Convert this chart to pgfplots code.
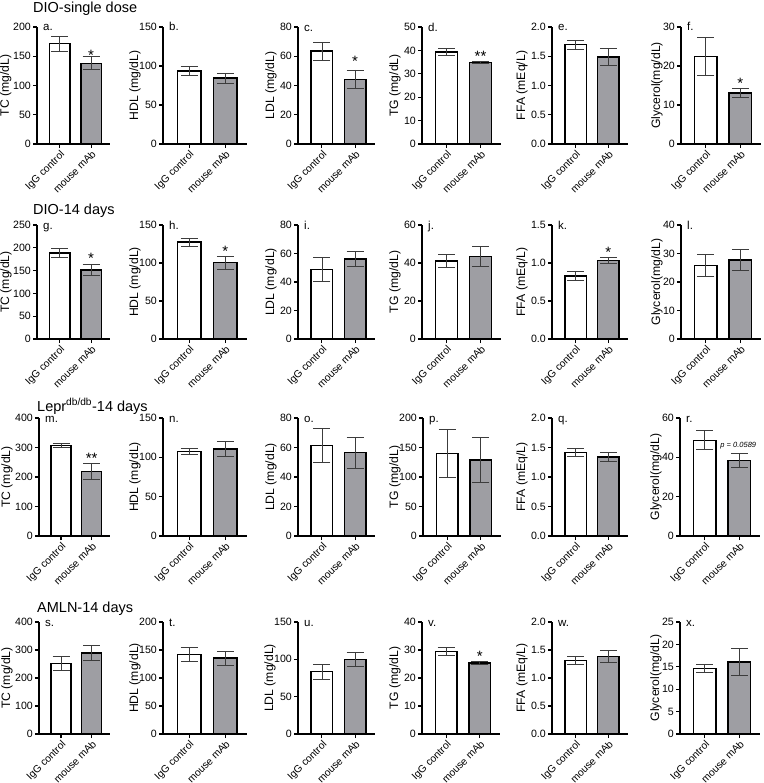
\documentclass[border=0pt]{standalone}
\usepackage{fontspec}
\setmainfont{Liberation Sans}
\usepackage{pgfplots}
\pgfplotsset{compat=1.18}
\definecolor{barGray}{RGB}{158,158,163}
\definecolor{errGray}{RGB}{60,60,60}
\pgfplotsset{
  ylx/.style={every axis y label/.style={at={(rel axis cs:0,0.5)}, xshift=-#1, rotate=90, anchor=base, font=\fontsize{12.2}{13}\selectfont}},
  panel/.style={
    scale only axis, anchor=south west,
    axis lines=left, axis line style={line width=1.2pt, -},
    xmin=-0.72, xmax=1.6, ymin=0,
    xtick={0,1}, xticklabels={IgG control, mouse mAb},
    tick align=outside, major tick length=4pt,
    tick style={line width=1.1pt, black},
    xticklabel style={rotate=45, anchor=north east, font=\fontsize{10.3}{11}\selectfont, inner sep=1pt},
    yticklabel style={font=\fontsize{10.6}{11}\selectfont, inner sep=2pt},
    ylx=25pt,
    /pgf/number format/assume math mode=true,
    clip=false,
  },
  dec/.style={yticklabel style={/pgf/number format/.cd, fixed, fixed zerofill, precision=1}},
  barcommon/.style={ybar, bar width=0.65, bar shift=0pt, draw=black, line width=1.4pt,
    error bars/y dir=both, error bars/y explicit,
    error bars/error bar style={line width=0.8pt, draw=errGray},
    error bars/error mark options={rotate=90, line width=0.8pt, draw=errGray, mark size=8.5pt}},
  wbar/.style={barcommon, fill=white},
  gbar/.style={barcommon, fill=barGray},
}
\tikzset{
  rowtitle/.style={anchor=base west, font=\fontsize{14.5}{15}\selectfont, inner sep=0pt},
  letter/.style={anchor=base west, font=\fontsize{11.5}{12}\selectfont, xshift=6pt, yshift=-4pt, inner sep=0pt},
  star/.style={font=\fontsize{15}{15}\selectfont, inner sep=0pt, yshift=-3pt},
}
\begin{document}
\begin{tikzpicture}
% ---------- Row 1 ----------
\node[rowtitle] at (33pt,-12.5pt) {DIO-single dose};
\begin{axis}[panel, ylx=28pt, at={(37pt,-144pt)}, width=73pt, height=117pt, ymax=200, ytick distance=50, ylabel={TC (mg/dL)}]
\addplot[wbar] coordinates {(0,171.5) +- (0,12.5)};
\addplot[gbar] coordinates {(1,138) +- (0,11)};
\node[letter] at (rel axis cs:0,1) {a.};
\node[star] at (axis cs:1,157) {*};
\end{axis}
\begin{axis}[panel, at={(163pt,-144pt)}, width=84pt, height=117pt, ymax=150, ytick distance=50, ylabel={HDL (mg/dL)}]
\addplot[wbar] coordinates {(0,93.8) +- (0,6.3)};
\addplot[gbar] coordinates {(1,84.5) +- (0,6.3)};
\node[letter] at (rel axis cs:0,1) {b.};
\end{axis}
\begin{axis}[panel, ylx=24pt, at={(298pt,-144pt)}, width=77pt, height=117pt, ymax=80, ytick distance=20, ylabel={LDL (mg/dL)}]
\addplot[wbar] coordinates {(0,63.5) +- (0,6)};
\addplot[gbar] coordinates {(1,44.3) +- (0,6.3)};
\node[letter] at (rel axis cs:0,1) {c.};
\node[star] at (axis cs:1,58.3) {*};
\end{axis}
\begin{axis}[panel, ylx=24pt, at={(422pt,-144pt)}, width=79pt, height=117pt, ymax=50, ytick distance=10, ylabel={TG (mg/dL)}]
\addplot[wbar] coordinates {(0,39.4) +- (0,1.6)};
\addplot[gbar] coordinates {(1,34.8) +- (0,0.5)};
\node[letter] at (rel axis cs:0,1) {d.};
\node[star] at (axis cs:1,38.6) {**};
\end{axis}
\begin{axis}[panel, dec, ylx=27pt, at={(552pt,-144pt)}, width=76pt, height=117pt, ymax=2, ytick distance=0.5, ylabel={FFA (mEq/L)}]
\addplot[wbar] coordinates {(0,1.70) +- (0,0.078)};
\addplot[gbar] coordinates {(1,1.49) +- (0,0.143)};
\node[letter] at (rel axis cs:0,1) {e.};
\end{axis}
\begin{axis}[panel, ylx=21pt, at={(681pt,-144pt)}, width=80pt, height=117pt, ymax=30, ytick distance=10, ylabel={Glycerol(mg/dL)}]
\addplot[wbar] coordinates {(0,22.5) +- (0,4.8)};
\addplot[gbar] coordinates {(1,13.1) +- (0,1.2)};
\node[letter] at (rel axis cs:0,1) {f.};
\node[star] at (axis cs:1,16.4) {*};
\end{axis}
% ---------- Row 2 ----------
\node[rowtitle] at (33pt,-215pt) {DIO-14 days};
\begin{axis}[panel, ylx=28pt, at={(37pt,-339pt)}, width=73pt, height=114pt, ymax=250, ytick distance=50, ylabel={TC (mg/dL)}]
\addplot[wbar] coordinates {(0,189) +- (0,10)};
\addplot[gbar] coordinates {(1,151) +- (0,12.5)};
\node[letter] at (rel axis cs:0,1) {g.};
\node[star] at (axis cs:1,184) {*};
\end{axis}
\begin{axis}[panel, at={(163pt,-339pt)}, width=84pt, height=114pt, ymax=150, ytick distance=50, ylabel={HDL (mg/dL)}]
\addplot[wbar] coordinates {(0,127.6) +- (0,5.3)};
\addplot[gbar] coordinates {(1,100.5) +- (0,8.5)};
\node[letter] at (rel axis cs:0,1) {h.};
\node[star] at (axis cs:1,119.6) {*};
\end{axis}
\begin{axis}[panel, ylx=24pt, at={(298pt,-339pt)}, width=77pt, height=114pt, ymax=80, ytick distance=20, ylabel={LDL (mg/dL)}]
\addplot[wbar] coordinates {(0,48.7) +- (0,8.4)};
\addplot[gbar] coordinates {(1,56.2) +- (0,5)};
\node[letter] at (rel axis cs:0,1) {i.};
\end{axis}
\begin{axis}[panel, ylx=24pt, at={(422pt,-339pt)}, width=79pt, height=114pt, ymax=60, ytick distance=20, ylabel={TG (mg/dL)}]
\addplot[wbar] coordinates {(0,41) +- (0,3.4)};
\addplot[gbar] coordinates {(1,43.5) +- (0,5.1)};
\node[letter] at (rel axis cs:0,1) {j.};
\end{axis}
\begin{axis}[panel, dec, ylx=27pt, at={(552pt,-339pt)}, width=76pt, height=114pt, ymax=1.5, ytick distance=0.5, ylabel={FFA (mEq/L)}]
\addplot[wbar] coordinates {(0,0.83) +- (0,0.063)};
\addplot[gbar] coordinates {(1,1.035) +- (0,0.035)};
\node[letter] at (rel axis cs:0,1) {k.};
\node[star] at (axis cs:1,1.174) {*};
\end{axis}
\begin{axis}[panel, ylx=21pt, at={(681pt,-339pt)}, width=80pt, height=114pt, ymax=40, ytick distance=10, ylabel={Glycerol(mg/dL)}]
\addplot[wbar] coordinates {(0,25.8) +- (0,3.8)};
\addplot[gbar] coordinates {(1,27.7) +- (0,3.6)};
\node[letter] at (rel axis cs:0,1) {l.};
\end{axis}
% ---------- Row 3 ----------
\node[rowtitle] at (37pt,-411pt) {Lepr\textsuperscript{db/db}-14 days};
\begin{axis}[panel, ylx=29pt, at={(39pt,-536pt)}, width=71pt, height=118pt, ymax=400, ytick distance=100, ylabel={TC (mg/dL)}]
\addplot[wbar] coordinates {(0,307) +- (0,6)};
\addplot[gbar] coordinates {(1,218) +- (0,27)};
\node[letter] at (rel axis cs:0,1) {m.};
\node[star] at (axis cs:1,275) {**};
\end{axis}
\begin{axis}[panel, at={(163pt,-536pt)}, width=84pt, height=118pt, ymax=150, ytick distance=50, ylabel={HDL (mg/dL)}]
\addplot[wbar] coordinates {(0,107.5) +- (0,3.7)};
\addplot[gbar] coordinates {(1,110.6) +- (0,9.9)};
\node[letter] at (rel axis cs:0,1) {n.};
\end{axis}
\begin{axis}[panel, ylx=24pt, at={(298pt,-536pt)}, width=77pt, height=118pt, ymax=80, ytick distance=20, ylabel={LDL (mg/dL)}]
\addplot[wbar] coordinates {(0,61.4) +- (0,11.4)};
\addplot[gbar] coordinates {(1,56.5) +- (0,10.5)};
\node[letter] at (rel axis cs:0,1) {o.};
\end{axis}
\begin{axis}[panel, at={(423pt,-536pt)}, width=78pt, height=118pt, ymax=200, ytick distance=50, ylabel={TG (mg/dL)}]
\addplot[wbar] coordinates {(0,140) +- (0,40)};
\addplot[gbar] coordinates {(1,128.5) +- (0,38)};
\node[letter] at (rel axis cs:0,1) {p.};
\end{axis}
\begin{axis}[panel, dec, ylx=27pt, at={(552pt,-536pt)}, width=76pt, height=118pt, ymax=2, ytick distance=0.5, ylabel={FFA (mEq/L)}]
\addplot[wbar] coordinates {(0,1.415) +- (0,0.072)};
\addplot[gbar] coordinates {(1,1.34) +- (0,0.072)};
\node[letter] at (rel axis cs:0,1) {q.};
\end{axis}
\begin{axis}[panel, ylx=21pt, at={(680pt,-536pt)}, width=80pt, height=118pt, ymax=60, ytick distance=20, ylabel={Glycerol(mg/dL)}]
\addplot[wbar] coordinates {(0,48.7) +- (0,4.8)};
\addplot[gbar] coordinates {(1,38.4) +- (0,3.7)};
\node[letter] at (rel axis cs:0,1) {r.};
\node[font=\fontsize{7.5}{8}\selectfont\itshape, inner sep=0pt] at (axis cs:0.97,45.7) {p = 0.0589};
\end{axis}
% ---------- Row 4 ----------
\node[rowtitle] at (37pt,-612pt) {AMLN-14 days};
\begin{axis}[panel, ylx=29pt, at={(39pt,-734pt)}, width=71pt, height=112pt, ymax=400, ytick distance=100, ylabel={TC (mg/dL)}]
\addplot[wbar] coordinates {(0,251) +- (0,25)};
\addplot[gbar] coordinates {(1,289) +- (0,26)};
\node[letter] at (rel axis cs:0,1) {s.};
\end{axis}
\begin{axis}[panel, at={(163pt,-734pt)}, width=84pt, height=112pt, ymax=200, ytick distance=50, ylabel={HDL (mg/dL)}]
\addplot[wbar] coordinates {(0,142) +- (0,13)};
\addplot[gbar] coordinates {(1,135.5) +- (0,12.5)};
\node[letter] at (rel axis cs:0,1) {t.};
\end{axis}
\begin{axis}[panel, at={(298pt,-734pt)}, width=77pt, height=112pt, ymax=150, ytick distance=50, ylabel={LDL (mg/dL)}]
\addplot[wbar] coordinates {(0,83.5) +- (0,9.8)};
\addplot[gbar] coordinates {(1,100) +- (0,9.6)};
\node[letter] at (rel axis cs:0,1) {u.};
\end{axis}
\begin{axis}[panel, ylx=24pt, at={(422pt,-734pt)}, width=78pt, height=112pt, ymax=40, ytick distance=10, ylabel={TG (mg/dL)}]
\addplot[wbar] coordinates {(0,29.4) +- (0,1.5)};
\addplot[gbar] coordinates {(1,25.4) +- (0,0.5)};
\node[letter] at (rel axis cs:0,1) {v.};
\node[star] at (axis cs:1,28.9) {*};
\end{axis}
\begin{axis}[panel, dec, ylx=27pt, at={(552pt,-734pt)}, width=76pt, height=112pt, ymax=2, ytick distance=0.5, ylabel={FFA (mEq/L)}]
\addplot[wbar] coordinates {(0,1.31) +- (0,0.075)};
\addplot[gbar] coordinates {(1,1.385) +- (0,0.105)};
\node[letter] at (rel axis cs:0,1) {w.};
\end{axis}
\begin{axis}[panel, ylx=21pt, at={(680pt,-734pt)}, width=80pt, height=112pt, ymax=25, ytick distance=5, ylabel={Glycerol(mg/dL)}]
\addplot[wbar] coordinates {(0,14.6) +- (0,0.85)};
\addplot[gbar] coordinates {(1,16.1) +- (0,3.05)};
\node[letter] at (rel axis cs:0,1) {x.};
\end{axis}
\pgfresetboundingbox
\path[use as bounding box] (0,0) rectangle (763pt,-783pt);
\end{tikzpicture}
\end{document}
